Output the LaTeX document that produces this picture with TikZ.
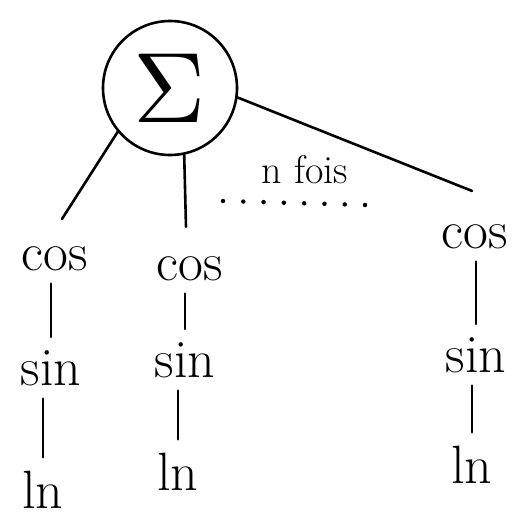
\documentclass[tikz,border=0pt]{standalone}
\usetikzlibrary{positioning}

\tikzset{
  fn/.style={font=\fontsize{54}{54}\selectfont, anchor=base, inner sep=13pt},
  link/.style={line width=2.6pt, line cap=round}
}

\begin{document}
\begin{tikzpicture}[x=1pt,y=-1pt]
  \useasboundingbox (0,0) rectangle (518,520);

  % Sum
  \node[circle, draw, line width=2.6pt, minimum size=134pt, inner sep=0pt]
        (sum) at (170,88) {\scalebox{10}{$\Sigma$}};

  % Terms
  \node[fn] (cos1) at (55,270) {cos};
  \node[fn] (sin1) at (51,385) {sin};
  \node[fn, inner sep=6pt] (ln1) at (43,508) {ln};

  \node[fn] (cos2) at (190,280) {cos};
  \node[fn] (sin2) at (185,377) {sin};
  \node[fn] (ln2)  at (178,490) {ln};

  \node[fn] (cos3) at (475,248) {cos};
  \node[fn] (sin3) at (476,372) {sin};
  \node[fn] (ln3)  at (472,483) {ln};

  % Branches
  \draw[link] (sum.220) -- ([shift={(7,-14)}]cos1.north);
  \draw[link] (sum.-78) -- ([shift={(-4,-16)}]cos2.north);
  \draw[link] (sum.-8)  -- ([shift={(-3,-20)}]cos3.north);

  % Chains
  \draw[link] (cos1.south -| sin1.north) -- (sin1.north);
  \draw[link] (sin1.south -| ln1.north) -- ([yshift=7pt]ln1.north);
  \draw[link] (cos2.south -| sin2.north) -- (sin2.north);
  \draw[link] (sin2.south -| ln2.north) -- (ln2.north);
  \draw[link] (cos3.south -| sin3.north) -- (sin3.north);
  \draw[link] (sin3.south -| ln3.north) -- (ln3.north);

  % Repetition
  \node[font=\fontsize{40}{40}\selectfont, anchor=base] (times) at (305,183) {n fois};
  \coordinate (dotsA) at (223,201);
  \coordinate (dotsB) at (366,205);
  \draw[line width=4.5pt, line cap=round, dash pattern=on 0pt off 20.3pt] (dotsA) -- (dotsB);

\end{tikzpicture}
\end{document}
